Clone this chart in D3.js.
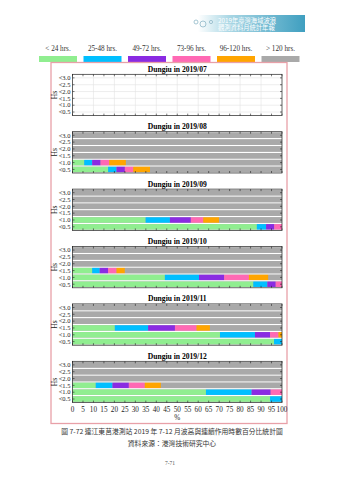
<!DOCTYPE html>
<html><head><meta charset="utf-8">
<script src="https://cdn.jsdelivr.net/npm/d3@7"></script>
<style>html,body{margin:0;padding:0;background:#fff;}svg{display:block;}</style>
</head><body>
<svg id="c" width="339" height="480"></svg>
<script>
const durations = ["< 24 hrs.", "25-48 hrs.", "49-72 hrs.", "73-96 hrs.", "96-120 hrs.", "> 120 hrs."];
const colors = ["#90ee90", "#00bfff", "#8a2be2", "#ff69b4", "#ffa500", "#a9a9a9"];
const hsLabels = ["<3.0", "<2.5", "<2.0", "<1.5", "<1.0", "<0.5"];
const months = ["2019/07", "2019/08", "2019/09", "2019/10", "2019/11", "2019/12"];
const xTicks = d3.range(0, 101, 5);
// percentage per duration class for each Hs row (rows listed top to bottom), null = no data
const m07 = null;
const m08 = [[0,0,0,0,0,100],[0,0,0,0,0,100],[0,0,0,0,0,100],[0,0,0,0,0,100],[5.6,3.8,4.0,4.1,8.0,74.5],[17,4,4,4,8,63]];
const m09 = [[0,0,0,0,0,100],[0,0,0,0,0,100],[0,0,0,0,0,100],[0,0,0,0,0,100],[34.9,11.6,10,5.9,7.6,30],[88,4.4,3.9,3.7,0,0]];
const m10 = [[0,0,0,0,0,100],[0,0,0,0,0,100],[0,0,0,0,0,100],[9.4,3.6,4,4,4,75],[44.1,16.3,12,11.8,9.3,6.5],[86.3,6.7,4,3,0,0]];
const m11 = [[0,0,0,0,0,100],[0,0,0,0,0,100],[0,0,0,0,0,100],[20.2,15.9,12.8,10.3,6.4,34.4],[70.4,16.7,7.2,4,1.7,0],[96.2,3.8,0,0,0,0]];
const m12 = [[0,0,0,0,0,100],[0,0,0,0,0,100],[0,0,0,0,0,100],[11.1,8,7.8,7.6,7.7,57.8],[63.7,21.8,9.1,5.4,0,0],[94.3,5.7,0,0,0,0]];
const monthData = [m07, m08, m09, m10, m11, m12];

const svg = d3.select("#c");
const serif = "'Liberation Serif','Times New Roman',serif";
const cjk = "'Noto Sans CJK TC','Noto Sans CJK SC',sans-serif";

// header banner
const grad = svg.append("defs").append("linearGradient").attr("id","bn").attr("x1","0").attr("x2","1");
grad.append("stop").attr("offset","0").attr("stop-color","#ffffff");
grad.append("stop").attr("offset","0.3").attr("stop-color","#a8d6e4");
grad.append("stop").attr("offset","1").attr("stop-color","#3f9fc0");
svg.append("rect").attr("x",198).attr("y",15).attr("width",107).attr("height",17).attr("fill","url(#bn)");
[[196,22,2],[203,24,3],[211,22,1.6]].forEach(c=>svg.append("circle").attr("cx",c[0]).attr("cy",c[1]).attr("r",c[2]).attr("fill","none").attr("stroke","#8fb8c8").attr("stroke-width",0.8));
svg.append("text").attr("x",218).attr("y",22.5).attr("font-family",cjk).attr("font-size",6.3).attr("fill","#fff").text("2019年臺灣海域波浪");
svg.append("text").attr("x",218).attr("y",30).attr("font-family",cjk).attr("font-size",6.3).attr("fill","#fff").text("觀測資料月統計年報");

// legend
const lx = d3.scalePoint().domain(durations).range([58, 280.5]);
durations.forEach((d,i)=>{
  svg.append("text").attr("x",lx(d)).attr("y",50.5).attr("text-anchor","middle").attr("font-family",serif).attr("font-size",7.2).attr("fill","#333").text(d);
  svg.append("rect").attr("x",lx(d)-19).attr("y",56).attr("width",38).attr("height",6).attr("fill",colors[i]);
});

// outer box
svg.append("rect").attr("x",51).attr("y",62.5).attr("width",236).attr("height",361).attr("fill","none").attr("stroke","#e8a0a8").attr("stroke-width",1.3);

const x = d3.scaleLinear().domain([0,100]).range([72.5, 282]);
const pitch = 57.4, plotH = 41.3, top0 = 74.3;

monthData.forEach((data, mi)=>{
  const t = top0 + pitch*mi;
  const y = d3.scaleBand().domain(hsLabels).range([t+0.5, t+plotH-0.5]).paddingInner(0.2).paddingOuter(0.05);
  const g = svg.append("g");
  g.append("text").attr("x",(x(0)+x(100))/2).attr("y",t-2.5).attr("text-anchor","middle").attr("font-family",serif).attr("font-weight","bold").attr("font-size",7.6).text("Dungiu in "+months[mi]);
  g.append("rect").attr("x",x(0)).attr("y",t).attr("width",x(100)-x(0)).attr("height",plotH).attr("fill","#fff");
  if(!data){
    g.selectAll("line.vg").data(d3.range(10,100,10)).join("line").attr("x1",d=>x(d)).attr("x2",d=>x(d)).attr("y1",t).attr("y2",t+plotH).attr("stroke","#e3e3e3").attr("stroke-width",0.6);
    g.selectAll("line.hg").data(hsLabels).join("line").attr("x1",x(0)).attr("x2",x(100)).attr("y1",d=>y(d)+y.bandwidth()/2).attr("y2",d=>y(d)+y.bandwidth()/2).attr("stroke","#e3e3e3").attr("stroke-width",0.6);
  } else {
    hsLabels.forEach((h,ri)=>{
      const vals = data[ri];
      const cum = d3.cumsum(vals);
      const segs = vals.map((v,k)=>({v, s: k?cum[k-1]:0, k})).filter(s=>s.v>0);
      g.append("rect").attr("x",x(0)).attr("y",y(h)).attr("width",x(100)-x(0)).attr("height",y.bandwidth()).attr("fill",colors[5]);
      g.selectAll(null).data(segs).join("rect")
        .attr("x",d=>x(d.s)).attr("y",y(h)).attr("width",d=>x(Math.min(100,d.s+d.v))-x(d.s)).attr("height",y.bandwidth()).attr("fill",d=>colors[d.k]);
    });
  }
  g.append("rect").attr("x",x(0)).attr("y",t).attr("width",x(100)-x(0)).attr("height",plotH).attr("fill","none").attr("stroke","#222").attr("stroke-width",0.7);
  g.selectAll("line.tt").data(xTicks).join("line").attr("x1",d=>x(d)).attr("x2",d=>x(d)).attr("y1",t).attr("y2",t+2).attr("stroke","#222").attr("stroke-width",0.6);
  g.selectAll("line.tb").data(xTicks).join("line").attr("x1",d=>x(d)).attr("x2",d=>x(d)).attr("y1",t+plotH).attr("y2",t+plotH-2).attr("stroke","#222").attr("stroke-width",0.6);
  hsLabels.forEach(h=>{
    const cy = y(h)+y.bandwidth()/2;
    g.append("line").attr("x1",x(0)).attr("x2",x(0)+2).attr("y1",cy).attr("y2",cy).attr("stroke","#222").attr("stroke-width",0.6);
    g.append("line").attr("x1",x(100)).attr("x2",x(100)-2).attr("y1",cy).attr("y2",cy).attr("stroke","#222").attr("stroke-width",0.6);
    g.append("text").attr("x",70.5).attr("y",cy+2.3).attr("text-anchor","end").attr("font-family",serif).attr("font-size",6.5).attr("fill","#222").text(h);
  });
  g.append("text").attr("transform",`translate(57,${t+plotH/2}) rotate(-90)`).attr("text-anchor","middle").attr("font-family",serif).attr("font-size",7.6).attr("fill","#222").text("Hs");
});

// bottom axis labels
const lastBottom = top0 + pitch*5 + plotH;
svg.selectAll("text.xl").data(xTicks).join("text").attr("x",d=>x(d)).attr("y",lastBottom+9).attr("text-anchor","middle").attr("font-family",serif).attr("font-size",7.2).attr("fill","#222").text(d=>d);
svg.append("text").attr("x",(x(0)+x(100))/2).attr("y",lastBottom+17.5).attr("text-anchor","middle").attr("font-family",serif).attr("font-size",7.2).attr("fill","#222").text("%");

// caption
svg.append("text").attr("x",172).attr("y",434).attr("text-anchor","middle").attr("font-family",cjk).attr("font-size",6.8).attr("fill","#333").text("圖 7-72  連江東莒港測站 2019 年 7-12 月波高與連續作用時數百分比統計圖");
svg.append("text").attr("x",172).attr("y",446).attr("text-anchor","middle").attr("font-family",cjk).attr("font-size",6.8).attr("fill","#333").text("資料來源：港灣技術研究中心");
svg.append("text").attr("x",170).attr("y",465).attr("text-anchor","middle").attr("font-family",serif).attr("font-size",5.5).attr("fill","#555").text("7-71");
</script>
</body></html>
